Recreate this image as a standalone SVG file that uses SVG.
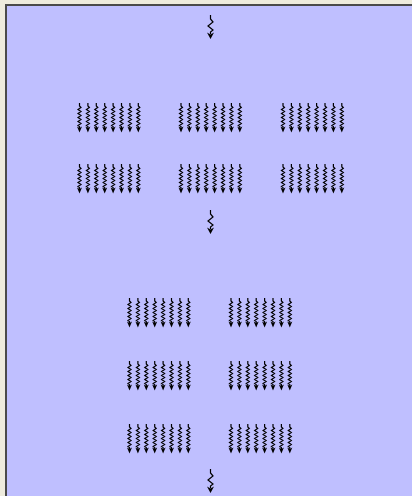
<svg xmlns="http://www.w3.org/2000/svg" width="412" height="496" viewBox="0 0 412 496">
<style>
.w{fill:none;stroke:#000;stroke-width:1.2;stroke-linejoin:miter}
.h{fill:#000;stroke:none}
</style>
<defs>
<g id="sm">
<path class="w" d="M0,0 V3 L1.5,4.5 L-1.5,6.5 L1.5,8.5 L-1.5,10.5 L1.5,12.5 L-1.5,14.5 L1.5,16.5 L-1.5,18.5 L1.5,20.5 L-1.5,22.5 L0,23.5 V26"/>
<path class="h" d="M0,29.5 L-2.5,23.5 L0,25 L2.5,23.5 Z"/>
</g>
<g id="big">
<path class="w" d="M0,0 V4 L2.5,7 L-2.5,11 L2.5,15 L0,17 V19"/>
<path class="h" d="M0,24 L-3.5,17.5 L0,19.5 L3.5,17.5 Z"/>
</g>
<g id="grp">
<use href="#sm" x="0"/><use href="#sm" x="8.4"/><use href="#sm" x="16.8"/><use href="#sm" x="25.2"/>
<use href="#sm" x="33.6"/><use href="#sm" x="42"/><use href="#sm" x="50.4"/><use href="#sm" x="58.8"/>
</g>
</defs>
<rect x="0" y="0" width="412" height="496" fill="#EEEBDD"/>
<rect id="panel" x="6" y="5" width="410" height="495" fill="#BFBFFF" stroke="#4a4a4a" stroke-width="2"/>
<g id="connectors">
<use href="#big" x="210.5" y="15"/>
<use href="#grp" x="79.5" y="103"/>
<use href="#grp" x="181" y="103"/>
<use href="#grp" x="283" y="103"/>
<use href="#grp" x="79.5" y="164"/>
<use href="#grp" x="181" y="164"/>
<use href="#grp" x="283" y="164"/>
<use href="#big" x="210.5" y="210"/>
<use href="#grp" x="129.5" y="298"/>
<use href="#grp" x="231" y="298"/>
<use href="#grp" x="129.5" y="361"/>
<use href="#grp" x="231" y="361"/>
<use href="#grp" x="129.5" y="424"/>
<use href="#grp" x="231" y="424"/>
<use href="#big" x="210.5" y="469"/>
</g>
</svg>
